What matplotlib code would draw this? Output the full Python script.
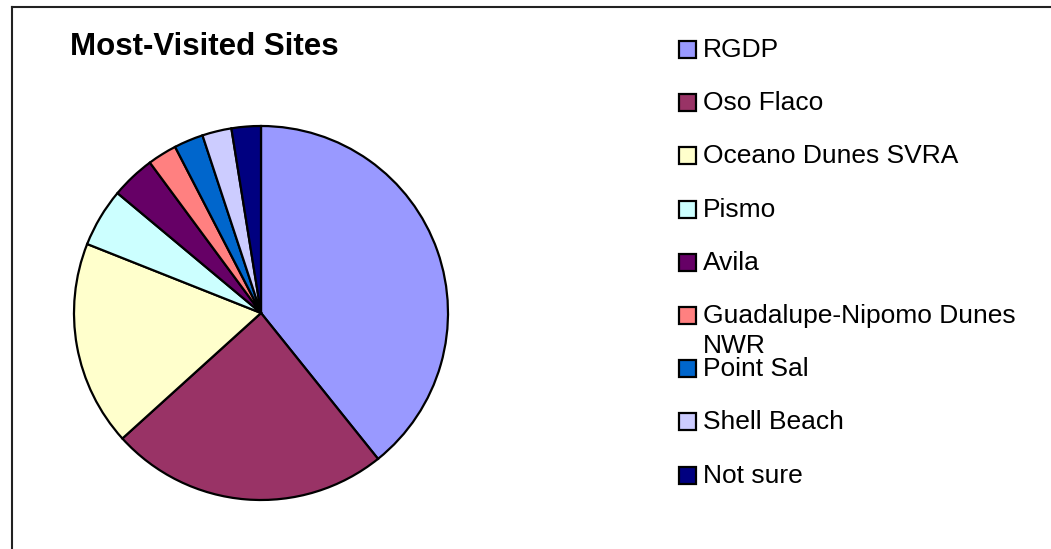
import matplotlib
matplotlib.use("Agg")
import matplotlib.pyplot as plt
from matplotlib.patches import Rectangle
from matplotlib.lines import Line2D

plt.rcParams['font.family'] = ['Liberation Sans', 'DejaVu Sans']

# survey responses per site
sites = ["RGDP", "Oso Flaco", "Oceano Dunes SVRA", "Pismo", "Avila",
         "Guadalupe-Nipomo Dunes\nNWR", "Point Sal", "Shell Beach", "Not sure"]
counts = [31, 19, 14, 4, 3, 2, 2, 2, 2]
colors = ["#9999FF", "#993366", "#FFFFCC", "#CCFFFF", "#660066",
          "#FF8080", "#0066CC", "#CCCCFF", "#000080"]

W, H = 1051, 549
fig = plt.figure(figsize=(W / 100, H / 100), dpi=100)
fig.patch.set_facecolor("white")

def fx(px):
    return px / W

def fy(py):
    return 1 - py / H

# outer chart frame (top and left edges only)
fig.add_artist(Line2D([fx(12), 1], [fy(6.5), fy(6.5)], color="#222222", lw=1.5))
fig.add_artist(Line2D([fx(12), fx(12)], [fy(6.5), 0], color="#222222", lw=1.5))

# pie, clockwise from 12 o'clock
cx, cy, r = 261, 313, 187
ax = fig.add_axes([fx(cx - r), fy(cy + r), 2 * r / W, 2 * r / H])
ax.pie(counts, colors=colors, startangle=90, counterclock=False, radius=1,
       wedgeprops=dict(edgecolor="black", linewidth=1.6))
ax.set_xlim(-1, 1)
ax.set_ylim(-1, 1)
ax.set_aspect("auto")
ax.axis("off")

fig.text(fx(70), fy(55), "Most-Visited Sites", fontsize=22.5, fontweight="bold",
         ha="left", va="baseline")

# legend drawn by hand so the wrapped label keeps the fixed row spacing
base0, step = 57, 53.2
for i, (name, col) in enumerate(zip(sites, colors)):
    base = base0 + i * step
    sq = Rectangle((fx(679), fy(base + 1)), 17 / W, 17 / H, transform=fig.transFigure,
                   facecolor=col, edgecolor="black", linewidth=1.6)
    fig.add_artist(sq)
    lines = name.split("\n")
    for j, txt in enumerate(lines):
        fig.text(fx(703), fy(base + j * 30), txt, fontsize=19,
                 ha="left", va="baseline")

fig.savefig("out.png", dpi=100, facecolor="white")
